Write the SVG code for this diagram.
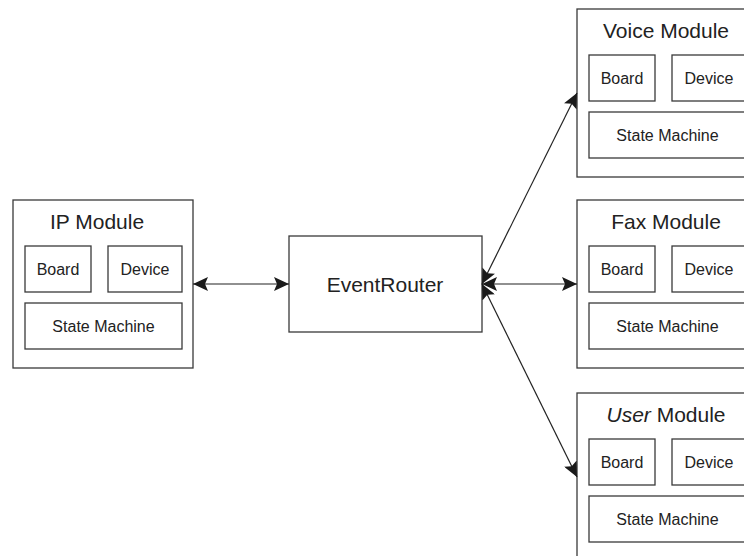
<svg xmlns="http://www.w3.org/2000/svg" width="744" height="556" viewBox="0 0 744 556">
<style>
  .box{fill:#fff;stroke:#3a3a3a;stroke-width:1.3}
  .t{font-family:"Liberation Sans",Arial,sans-serif;fill:#222;text-anchor:middle}
  .title{font-size:21px}
  .small{font-size:16px}
  .conn{stroke:#222;stroke-width:1.2;fill:none;marker-start:url(#ah);marker-end:url(#ah)}
</style>
<defs>
  <marker id="ah" viewBox="0 0 15 14" refX="15" refY="7" markerWidth="15" markerHeight="14" markerUnits="userSpaceOnUse" orient="auto-start-reverse">
    <path d="M0,0 L15,7 L0,14 L3,7 Z" fill="#1a1a1a"/>
  </marker>
</defs>
<rect width="744" height="556" fill="#fff"/>
<g id="ip-module" transform="translate(13,200)">
  <rect class="box" x="0" y="0" width="180" height="168"/>
  <text class="t title" x="84" y="29">IP Module</text>
  <rect class="box" x="12" y="46" width="66" height="46"/>
  <text class="t small" x="45" y="74.5">Board</text>
  <rect class="box" x="95" y="46" width="74" height="46"/>
  <text class="t small" x="132" y="74.5">Device</text>
  <rect class="box" x="12" y="103" width="157" height="46"/>
  <text class="t small" x="90.5" y="131.5">State Machine</text>
</g>
<g id="event-router">
  <rect class="box" x="289" y="236" width="193" height="96"/>
  <text class="t title" x="385" y="292">EventRouter</text>
</g>
<g id="voice-module" transform="translate(577,9)">
  <rect class="box" x="0" y="0" width="180" height="168"/>
  <text class="t title" x="89" y="29">Voice Module</text>
  <rect class="box" x="12" y="46" width="66" height="46"/>
  <text class="t small" x="45" y="74.5">Board</text>
  <rect class="box" x="95" y="46" width="74" height="46"/>
  <text class="t small" x="132" y="74.5">Device</text>
  <rect class="box" x="12" y="103" width="157" height="46"/>
  <text class="t small" x="90.5" y="131.5">State Machine</text>
</g>
<g id="fax-module" transform="translate(577,200)">
  <rect class="box" x="0" y="0" width="180" height="168"/>
  <text class="t title" x="89" y="29">Fax Module</text>
  <rect class="box" x="12" y="46" width="66" height="46"/>
  <text class="t small" x="45" y="74.5">Board</text>
  <rect class="box" x="95" y="46" width="74" height="46"/>
  <text class="t small" x="132" y="74.5">Device</text>
  <rect class="box" x="12" y="103" width="157" height="46"/>
  <text class="t small" x="90.5" y="131.5">State Machine</text>
</g>
<g id="user-module" transform="translate(577,393)">
  <rect class="box" x="0" y="0" width="180" height="168"/>
  <text class="t title" x="89" y="29"><tspan font-style="italic">User</tspan> Module</text>
  <rect class="box" x="12" y="46" width="66" height="46"/>
  <text class="t small" x="45" y="74.5">Board</text>
  <rect class="box" x="95" y="46" width="74" height="46"/>
  <text class="t small" x="132" y="74.5">Device</text>
  <rect class="box" x="12" y="103" width="157" height="46"/>
  <text class="t small" x="90.5" y="131.5">State Machine</text>
</g>
<g id="connectors">
  <line class="conn" x1="193" y1="284" x2="289" y2="284"/>
  <line class="conn" x1="482" y1="284" x2="577" y2="93"/>
  <line class="conn" x1="482" y1="284" x2="577" y2="284"/>
  <line class="conn" x1="482" y1="284" x2="577" y2="477"/>
</g>
</svg>
